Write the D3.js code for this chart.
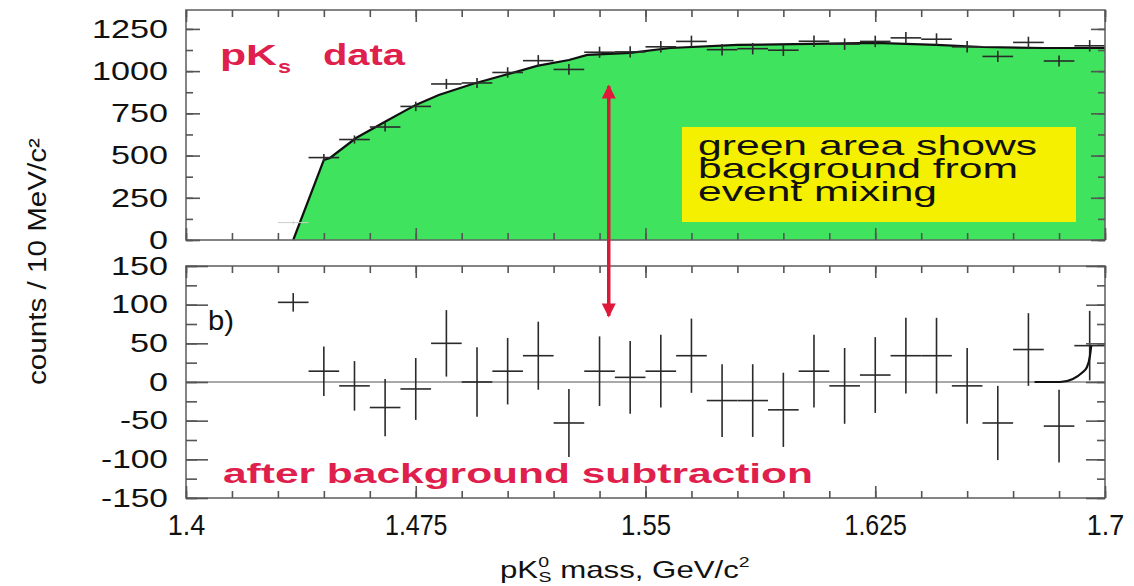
<!DOCTYPE html>
<html>
<head>
<meta charset="utf-8">
<script src="https://cdn.jsdelivr.net/npm/d3@7"></script>
<style>
  html, body { margin: 0; padding: 0; background: #fff; }
  text { font-family: "Liberation Sans", Arial, sans-serif; }
</style>
</head>
<body>
<div id="chart"></div>
<script>
// bin centres, 10 MeV bins
const massBins = [1.435, 1.445, 1.455, 1.465, 1.475, 1.485, 1.495, 1.505, 1.515, 1.525,
  1.535, 1.545, 1.555, 1.565, 1.575, 1.585, 1.595, 1.605, 1.615, 1.625,
  1.635, 1.645, 1.655, 1.665, 1.675, 1.685, 1.695]
const binHalf = 0.005

// top panel: pKs data
const dataCounts = [103, 488, 595, 669, 791, 924, 930, 992, 1062, 1010,
  1112, 1114, 1144, 1176, 1127, 1133, 1124, 1177, 1160, 1176,
  1197, 1189, 1144, 1087, 1170, 1060, 1150]
const dataErr = [10, 22, 24, 26, 28, 30, 30, 31, 33, 32,
  33, 33, 34, 34, 34, 34, 34, 34, 34, 34,
  35, 35, 34, 33, 34, 33, 34]

// top panel: event-mixing background (green area edge)
const bgMass = [1.435, 1.445, 1.447, 1.4555, 1.466, 1.475, 1.4825, 1.4935, 1.504, 1.5146,
  1.525, 1.531, 1.545, 1.558, 1.58, 1.625, 1.645, 1.66, 1.68, 1.7]
const bgCounts = [0, 474, 486, 604, 711, 800, 859, 924, 977, 1031,
  1066, 1096, 1108, 1137, 1155, 1167, 1155, 1143, 1137, 1137]

// bottom panel: after background subtraction
const diffCounts = [103, 14, -5, -33, -9, 50, 0, 14, 34, -53,
  14, 6, 14, 34, -24, -24, -36, 14, -5, 9,
  34, 34, -5, -53, 42, -57, 47]
const diffErr = [12, 32, 32, 37, 40, 43, 45, 43, 44, 44,
  45, 47, 47, 48, 47, 47, 48, 47, 49, 49,
  49, 49, 49, 48, 47, 47, 45]

// curve at the right end of the bottom panel
const curveMass = [1.677, 1.6853, 1.6895, 1.6925, 1.6941, 1.6951, 1.6955]
const curveCounts = [0, 0, 4, 12, 19, 34, 47]

const xTickValues = [1.4, 1.475, 1.55, 1.625, 1.7]
const xTickLabels = ["1.4", "1.475", "1.55", "1.625", "1.7"]
const topYTicks = [0, 250, 500, 750, 1000, 1250]
const botYTicks = [-150, -100, -50, 0, 50, 100, 150]

const W = 1134, H = 586
const left = 186, right = 1105
const top1 = 10, bot1 = 240, top2 = 266, bot2 = 498

const svg = d3.select("#chart").append("svg")
  .attr("width", W).attr("height", H)

const x = d3.scaleLinear().domain([1.4, 1.7]).range([left, right])
const yTop = d3.scaleLinear().domain([0, 1362]).range([bot1, top1])
const yBot = d3.scaleLinear().domain([-150, 150]).range([bot2, top2])

const xMinor = d3.range(0, 21).map(i => 1.4 + i * 0.015)
const red = "#e0204c"
const ink = "#2a2a2a"

// ---- top panel ----
const bgPts = bgMass.map((m, i) => [m, bgCounts[i]])
svg.append("path")
  .datum(bgPts)
  .attr("fill", "#3fe35e")
  .attr("d", d3.area().x(d => x(d[0])).y0(yTop(0)).y1(d => yTop(d[1])))
svg.append("path")
  .datum(bgPts)
  .attr("fill", "none")
  .attr("stroke", "#111")
  .attr("stroke-width", 2.2)
  .attr("d", d3.line().x(d => x(d[0])).y(d => yTop(d[1])))

function drawCrosses(g, yScale, vals, errs, faintFirst) {
  const pts = g.selectAll("g.pt")
    .data(massBins.map((m, i) => ({ m, v: vals[i], e: errs[i], i })))
    .enter().append("g").attr("class", "pt")
  pts.append("line")
    .attr("x1", d => x(d.m - binHalf)).attr("x2", d => x(d.m + binHalf))
    .attr("y1", d => yScale(d.v)).attr("y2", d => yScale(d.v))
  pts.append("line")
    .attr("x1", d => x(d.m)).attr("x2", d => x(d.m))
    .attr("y1", d => yScale(d.v - d.e)).attr("y2", d => yScale(d.v + d.e))
  pts.selectAll("line").attr("stroke", ink).attr("stroke-width", 1.6)
  if (faintFirst) pts.filter(d => d.i === 0).selectAll("line").attr("stroke", "#ccc").attr("stroke-width", 1)
}

const topPts = svg.append("g")
drawCrosses(topPts, yTop, dataCounts, dataErr, true)

// yellow note
svg.append("rect")
  .attr("x", 682).attr("y", 127).attr("width", 394).attr("height", 95)
  .attr("fill", "#f4f000")
const note = ["green area shows", "background from", "event mixing"]
const noteLen = [339, 320, 239]
svg.selectAll("text.note").data(note).enter().append("text")
  .attr("class", "note")
  .attr("x", 698).attr("y", (d, i) => 155 + i * 23)
  .attr("font-size", 28).attr("fill", "#111")
  .attr("textLength", (d, i) => noteLen[i]).attr("lengthAdjust", "spacingAndGlyphs")
  .text(d => d)

// pKs data label
svg.append("text").attr("x", 220).attr("y", 65).attr("font-size", 30).attr("font-weight", "bold")
  .attr("fill", red).attr("textLength", 57).attr("lengthAdjust", "spacingAndGlyphs").text("pK")
svg.append("text").attr("x", 278).attr("y", 73).attr("font-size", 19).attr("font-weight", "bold")
  .attr("fill", red).attr("textLength", 13).attr("lengthAdjust", "spacingAndGlyphs").text("s")
svg.append("text").attr("x", 323).attr("y", 65).attr("font-size", 30).attr("font-weight", "bold")
  .attr("fill", red).attr("textLength", 82).attr("lengthAdjust", "spacingAndGlyphs").text("data")

// ---- bottom panel ----
svg.append("line")
  .attr("x1", left).attr("x2", right).attr("y1", yBot(0)).attr("y2", yBot(0))
  .attr("stroke", "#555").attr("stroke-width", 1.2)

const botPts = svg.append("g")
drawCrosses(botPts, yBot, diffCounts, diffErr, false)

svg.append("path")
  .datum(curveMass.map((m, i) => [m, curveCounts[i]]))
  .attr("fill", "none").attr("stroke", "#111").attr("stroke-width", 2.2)
  .attr("d", d3.line().x(d => x(d[0])).y(d => yBot(d[1])).curve(d3.curveMonotoneX))

svg.append("text").attr("x", 208).attr("y", 330).attr("font-size", 28).attr("fill", "#111")
  .attr("textLength", 26).attr("lengthAdjust", "spacingAndGlyphs").text("b)")
svg.append("text").attr("x", 223).attr("y", 483).attr("font-size", 27).attr("font-weight", "bold")
  .attr("fill", red).attr("textLength", 590).attr("lengthAdjust", "spacingAndGlyphs")
  .text("after background subtraction")

// ---- frames and ticks ----
function frame(y0, y1) {
  svg.append("rect").attr("x", left).attr("y", y0).attr("width", right - left).attr("height", y1 - y0)
    .attr("fill", "none").attr("stroke", "#666").attr("stroke-width", 1.6)
}
frame(top1, bot1)
frame(top2, bot2)

function tickAxis(axis, tx, ty) {
  const g = svg.append("g").attr("transform", `translate(${tx},${ty})`).call(axis)
  g.select(".domain").remove()
  g.selectAll(".tick line").attr("stroke", "#555").attr("stroke-width", 1.6)
  return g
}

;[[top1, bot1], [top2, bot2]].forEach(([y0, y1]) => {
  tickAxis(d3.axisTop(x).tickValues(xMinor).tickSize(-7).tickFormat(""), 0, y0)
  tickAxis(d3.axisTop(x).tickValues(xTickValues).tickSize(-12).tickFormat(""), 0, y0)
  tickAxis(d3.axisBottom(x).tickValues(xMinor).tickSize(-7).tickFormat(""), 0, y1)
})
tickAxis(d3.axisBottom(x).tickValues(xTickValues).tickSize(-12).tickFormat(""), 0, bot1)

const xAx = tickAxis(d3.axisBottom(x).tickValues(xTickValues).tickSize(-12).tickPadding(16)
  .tickFormat((d, i) => xTickLabels[i]), 0, bot2)
xAx.selectAll("text").attr("font-size", 29).attr("fill", "#111")
  .attr("font-family", "Liberation Sans, Arial, sans-serif")
  .attr("textLength", (d, i) => xTickLabels[i].length * 12.5)
  .attr("lengthAdjust", "spacingAndGlyphs")

// y ticks top
const topMinor = d3.range(0, 11).map(i => i * 125)
tickAxis(d3.axisLeft(yTop).tickValues(topMinor).tickSize(-7).tickFormat(""), left, 0)
const yAx1 = tickAxis(d3.axisLeft(yTop).tickValues(topYTicks).tickSize(-14).tickPadding(18)
  .tickFormat(d => String(d)), left, 0)
tickAxis(d3.axisRight(yTop).tickValues(topMinor).tickSize(-7).tickFormat(""), right, 0)
tickAxis(d3.axisRight(yTop).tickValues(topYTicks).tickSize(-14).tickFormat(""), right, 0)

// y ticks bottom
const botMinor = d3.range(0, 13).map(i => -150 + i * 25)
tickAxis(d3.axisLeft(yBot).tickValues(botMinor).tickSize(-11).tickFormat(""), left, 0)
const yAx2 = tickAxis(d3.axisLeft(yBot).tickValues(botYTicks).tickSize(-22).tickPadding(18)
  .tickFormat(d => String(d)), left, 0)
tickAxis(d3.axisRight(yBot).tickValues(botMinor).tickSize(-8).tickFormat(""), right, 0)
tickAxis(d3.axisRight(yBot).tickValues(botYTicks).tickSize(-19).tickFormat(""), right, 0)

;[yAx1, yAx2].forEach(g => {
  g.selectAll("text")
    .attr("font-size", 26).attr("fill", "#111")
    .attr("font-family", "Liberation Sans, Arial, sans-serif")
    .attr("textLength", d => String(d).replace("-", "").length * 19 + (d < 0 ? 10 : 0))
    .attr("lengthAdjust", "spacingAndGlyphs")
})

// red double arrow
const arrowX = x(1.538)
svg.append("defs").append("marker")
  .attr("id", "ah").attr("viewBox", "0 0 10 10").attr("refX", 9).attr("refY", 5)
  .attr("markerWidth", 5.5).attr("markerHeight", 4).attr("orient", "auto-start-reverse")
  .append("path").attr("d", "M0,0L10,5L0,10z").attr("fill", "#e0183a")
svg.append("line")
  .attr("x1", arrowX).attr("x2", arrowX).attr("y1", 86).attr("y2", 316)
  .attr("stroke", "#d81a3a").attr("stroke-width", 3.5)
  .attr("marker-start", "url(#ah)").attr("marker-end", "url(#ah)")

// axis titles
svg.append("text")
  .attr("transform", "translate(46,385) rotate(-90)")
  .attr("font-size", 25).attr("fill", "#111")
  .attr("textLength", 247).attr("lengthAdjust", "spacingAndGlyphs")
  .text("counts / 10 MeV/c²")

const xt = svg.append("text")
  .attr("transform", "translate(500,578) scale(1.3,1)")
  .attr("font-size", 24).attr("fill", "#111")
xt.append("tspan").text("pK")
xt.append("tspan").attr("font-size", 15).attr("dy", -11).text("0")
xt.append("tspan").attr("font-size", 15).attr("dx", -8).attr("dy", 15).text("S")
xt.append("tspan").attr("dy", -4).text(" mass, GeV/c")
xt.append("tspan").attr("font-size", 15).attr("dy", -11).text("2")
</script>
</body>
</html>
